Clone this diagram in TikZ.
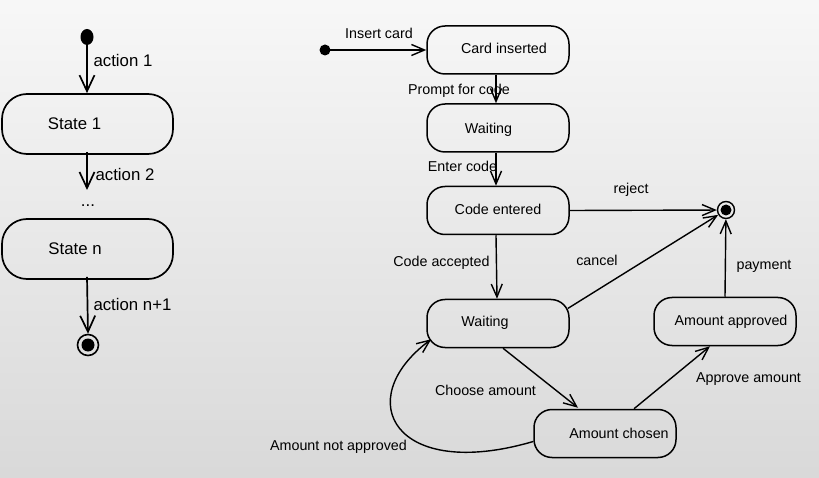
\documentclass[tikz,border=0pt]{standalone}
\usepackage{fontspec}
\setmainfont{Liberation Sans}
\usetikzlibrary{arrows.meta,calc,shapes.geometric}
\begin{document}
\begin{tikzpicture}[x=1pt,y=-1pt,
  big/.style={font=\fontsize{16.8}{19}\selectfont, inner sep=0pt, text height=12pt, text depth=0pt},
  sm/.style={font=\fontsize{14.3}{17}\selectfont, inner sep=0pt, text height=10.2pt, text depth=0pt},
  stL/.style={draw, line width=1.7pt, rounded corners=25pt, minimum width=171pt, minimum height=60pt},
  stR/.style={draw, line width=1.5pt, rounded corners=18pt, minimum width=142pt, minimum height=48pt},
  arL/.style={line width=1.7pt, -{Straight Barb[length=16pt,width=15pt,line width=1.7pt]}},
  arR/.style={line width=1.4pt, -{Straight Barb[length=13pt,width=11pt,line width=1.4pt]}},
  finst/.style={circle, draw, line width=1.4pt, inner sep=0pt},
]
\useasboundingbox (0,0) rectangle (819,478);
\shade[top color=white!97!black, bottom color=white!85!black] (0,0) rectangle (819,478);

% ---------- left diagram ----------
\node[fill=black, ellipse, minimum width=13pt, minimum height=16pt, inner sep=0pt] (i1) at (87,37) {};
\node[stL] (s1) at (87.5,124) {};
\node[big] at (74.5,124) {State 1};
\node[stL] (sn) at (87.5,249) {};
\node[big] at (75,249) {State n};
\node[finst, line width=1.6pt, minimum size=21pt] (f1) at (88,345) {};
\fill (f1.center) circle (6.5);
\coordinate (a2end) at (87,190);

\draw[arL] (i1.south) -- (s1.north -| i1.south);
\draw[arL] ($(s1.south)+(-0.5,-3)$) -- (a2end);
\draw[arL] ($(sn.south)+(-0.5,-3)$) -- (f1.north);

\node[big] at (123,61) {action 1};
\node[big] at (125,175) {action 2};
\node[big] (dots) at (88,201) {...};
\node[big] at (132.5,304) {action n+1};

% ---------- right diagram ----------
\node[circle, fill=black, minimum size=11pt, inner sep=0pt] (i2) at (325,50) {};
\node[stR] (card) at (498,50) {};
\node[sm] at (504,48) {Card inserted};
\node[stR] (w1) at (498,128) {};
\node[sm] at (488.5,128) {Waiting};
\node[stR] (code) at (498,210.5) {};
\node[sm] at (498,209) {Code entered};
\node[stR] (w2) at (498,323.5) {};
\node[sm] at (485,321) {Waiting};
\node[stR] (appr) at (725,321.5) {};
\node[sm] at (731,320) {Amount approved};
\node[stR] (chosen) at (605,433.5) {};
\node[sm] at (619,433) {Amount chosen};
\node[finst, minimum size=17pt] (f2) at (726,210) {};
\fill (f2.center) circle (5.5);

\draw[arR] (i2.center) -- (card.west);
\draw[arR] ($(card.south)+(-2,0)$) -- ($(w1.north)+(-2,0)$);
\draw[arR] ($(w1.south)+(-2,0)$) -- ($(code.north)+(-2,0)$);
\draw[arR] (code.east) -- (f2);
\draw[arR] ($(code.south)+(-2,0)$) -- ($(w2.north)+(-1,0)$);
\draw[arR] ($(w2.east)+(-2,-15)$) -- (f2);
\draw[arR] (appr.north) -- (f2);
\draw[arR] ($(w2.south)+(5,0)$) -- ($(chosen.north)+(-27,-1)$);
\draw[arR] ($(chosen.north)+(29,0)$) -- ($(appr.south)+(-15,0)$);
\draw[arR] ($(chosen.west)+(0,8)$) .. controls (395,482) and (350,400) .. ($(w2.south west)+(5,-9)$);

\node[sm] at (379,33) {Insert card};
\node[sm] at (459,89) {Prompt for code};
\node[sm] at (462.5,166) {Enter code};
\node[sm] at (631,188) {reject};
\node[sm] at (441.5,261) {Code accepted};
\node[sm] at (597,260) {cancel};
\node[sm] at (764,264) {payment};
\node[sm] at (485.5,390) {Choose amount};
\node[sm] at (748.5,377) {Approve amount};
\node[sm] at (338.5,445) {Amount not approved};
\end{tikzpicture}
\end{document}
